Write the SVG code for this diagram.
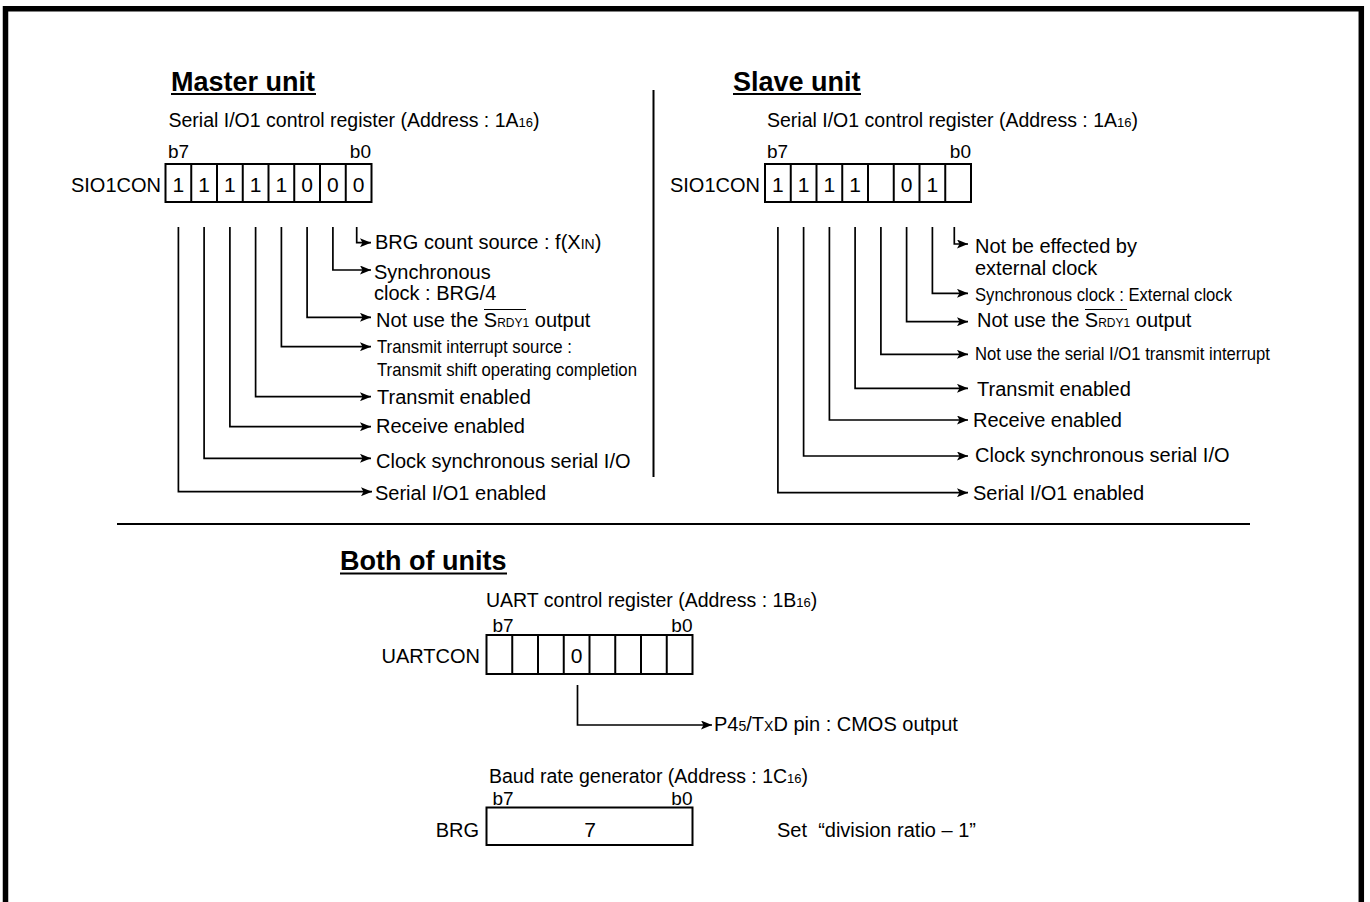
<svg xmlns="http://www.w3.org/2000/svg" width="1370" height="902" viewBox="0 0 1370 902">
<defs>
<marker id="arr" markerUnits="userSpaceOnUse" markerWidth="11" markerHeight="9" refX="11" refY="4.5" orient="auto"><path d="M0,0 L11,4.5 L0,9 L2.5,4.5 z" fill="#000"/></marker>
</defs>
<style>
.t{font-family:"Liberation Sans",Arial,sans-serif;font-size:20px;fill:#000}
.h{font-family:"Liberation Sans",Arial,sans-serif;font-size:27px;font-weight:bold;fill:#000}
.r{font-family:"Liberation Sans",Arial,sans-serif;font-size:19.5px;fill:#000}
.b{font-family:"Liberation Sans",Arial,sans-serif;font-size:19px;fill:#000}
.d{font-family:"Liberation Sans",Arial,sans-serif;font-size:21px;fill:#000;text-anchor:middle}
.c{font-family:"Liberation Sans",Arial,sans-serif;font-size:19px;fill:#000}
.box{fill:#fff;stroke:#000;stroke-width:2}
.cl{stroke:#000;stroke-width:2}
.ar{fill:none;stroke:#000;stroke-width:1.7;marker-end:url(#arr)}
.sep{stroke:#000;stroke-width:2}
</style>
<rect width="1370" height="902" fill="#fff"/>
<path d="M5.5,902 V8.8 H1361.3 V902" fill="none" stroke="#000" stroke-width="5.5"/>
<line class="sep" x1="653.5" y1="90" x2="653.5" y2="477"/>
<line class="sep" x1="117" y1="524" x2="1250" y2="524"/>

<g id="master">
<text class="h" x="171" y="91">Master unit</text>
<line x1="171" y1="94" x2="316" y2="94" stroke="#000" stroke-width="2"/>
<text class="r" x="168.5" y="127">Serial I/O1 control register (Address : 1A<tspan font-size="13">16</tspan>)</text>
<text class="b" x="168" y="158">b7</text>
<text class="b" x="371" y="158" text-anchor="end">b0</text>
<text class="t" x="161" y="192" text-anchor="end" font-size="21">SIO1CON</text>
<rect class="box" x="165.5" y="164" width="206" height="38"/>
<g class="cl"><line x1="191.25" y1="164" x2="191.25" y2="202"/><line x1="217" y1="164" x2="217" y2="202"/><line x1="242.75" y1="164" x2="242.75" y2="202"/><line x1="268.5" y1="164" x2="268.5" y2="202"/><line x1="294.25" y1="164" x2="294.25" y2="202"/><line x1="320" y1="164" x2="320" y2="202"/><line x1="345.75" y1="164" x2="345.75" y2="202"/></g>
<text class="d" x="178.4" y="192">1</text><text class="d" x="204.1" y="192">1</text><text class="d" x="229.9" y="192">1</text><text class="d" x="255.6" y="192">1</text><text class="d" x="281.4" y="192">1</text><text class="d" x="307.1" y="192">0</text><text class="d" x="332.9" y="192">0</text><text class="d" x="358.6" y="192">0</text>
<text class="t" x="375" y="249">BRG count source : f(X<tspan font-size="14">IN</tspan>)</text>
<text class="t" x="374" y="279">Synchronous</text>
<text class="t" x="374" y="300">clock : BRG/4</text>
<text class="t" x="376" y="327">Not use the S<tspan font-size="12">RDY1</tspan> output</text>
<line x1="484" y1="309.5" x2="526" y2="309.5" stroke="#000" stroke-width="1"/>
<text class="c" x="377" y="353" textLength="195" lengthAdjust="spacingAndGlyphs">Transmit interrupt source :</text>
<text class="c" x="377" y="376" textLength="260" lengthAdjust="spacingAndGlyphs">Transmit shift operating completion</text>
<text class="t" x="377" y="404">Transmit enabled</text>
<text class="t" x="376" y="433">Receive enabled</text>
<text class="t" x="376" y="468">Clock synchronous serial I/O</text>
<text class="t" x="375" y="500">Serial I/O1 enabled</text>
</g>

<g id="slave">
<text class="h" x="733" y="91">Slave unit</text>
<line x1="733" y1="94" x2="861" y2="94" stroke="#000" stroke-width="2"/>
<text class="r" x="767" y="127">Serial I/O1 control register (Address : 1A<tspan font-size="13">16</tspan>)</text>
<text class="b" x="767" y="158">b7</text>
<text class="b" x="971" y="158" text-anchor="end">b0</text>
<text class="t" x="760" y="192" text-anchor="end" font-size="21">SIO1CON</text>
<rect class="box" x="765" y="164" width="206" height="38"/>
<g class="cl"><line x1="790.75" y1="164" x2="790.75" y2="202"/><line x1="816.5" y1="164" x2="816.5" y2="202"/><line x1="842.25" y1="164" x2="842.25" y2="202"/><line x1="868" y1="164" x2="868" y2="202"/><line x1="893.75" y1="164" x2="893.75" y2="202"/><line x1="919.5" y1="164" x2="919.5" y2="202"/><line x1="945.25" y1="164" x2="945.25" y2="202"/></g>
<text class="d" x="777.9" y="192">1</text><text class="d" x="803.6" y="192">1</text><text class="d" x="829.4" y="192">1</text><text class="d" x="855.1" y="192">1</text><text class="d" x="906.6" y="192">0</text><text class="d" x="932.4" y="192">1</text>
<text class="t" x="975" y="253">Not be effected by</text>
<text class="t" x="975" y="275">external clock</text>
<text class="c" x="975" y="301" textLength="257" lengthAdjust="spacingAndGlyphs">Synchronous clock : External clock</text>
<text class="t" x="977" y="327">Not use the S<tspan font-size="12">RDY1</tspan> output</text>
<line x1="1085" y1="309.5" x2="1127" y2="309.5" stroke="#000" stroke-width="1"/>
<text class="c" x="975" y="360" textLength="295" lengthAdjust="spacingAndGlyphs">Not use the serial I/O1 transmit interrupt</text>
<text class="t" x="977" y="396">Transmit enabled</text>
<text class="t" x="973" y="427">Receive enabled</text>
<text class="t" x="975" y="462">Clock synchronous serial I/O</text>
<text class="t" x="973" y="500">Serial I/O1 enabled</text>
</g>

<g id="both">
<text class="h" x="340" y="570">Both of units</text>
<line x1="340" y1="573.5" x2="507" y2="573.5" stroke="#000" stroke-width="2"/>
<text class="r" x="486" y="607">UART control register (Address : 1B<tspan font-size="13">16</tspan>)</text>
<text class="b" x="492.5" y="631.5">b7</text>
<text class="b" x="692.5" y="631.5" text-anchor="end">b0</text>
<text class="t" x="480" y="663" text-anchor="end">UARTCON</text>
<rect class="box" x="486.5" y="635" width="206" height="39"/>
<g class="cl"><line x1="512.25" y1="635" x2="512.25" y2="674"/><line x1="538" y1="635" x2="538" y2="674"/><line x1="563.75" y1="635" x2="563.75" y2="674"/><line x1="589.5" y1="635" x2="589.5" y2="674"/><line x1="615.25" y1="635" x2="615.25" y2="674"/><line x1="641" y1="635" x2="641" y2="674"/><line x1="666.75" y1="635" x2="666.75" y2="674"/></g>
<text class="d" x="576.6" y="663">0</text>
<text class="t" x="714" y="731">P4<tspan font-size="14">5</tspan>/T<tspan font-size="14">X</tspan>D pin : CMOS output</text>
</g>

<g id="brg">
<text class="r" x="489" y="783">Baud rate generator (Address : 1C<tspan font-size="13">16</tspan>)</text>
<text class="b" x="492.5" y="805">b7</text>
<text class="b" x="692.5" y="805" text-anchor="end">b0</text>
<text class="t" x="479" y="837" text-anchor="end">BRG</text>
<rect class="box" x="486.5" y="807.5" width="206" height="37.5"/>
<text class="d" x="590" y="837" font-size="20">7</text>
<text class="t" x="777" y="837" xml:space="preserve">Set  “division ratio – 1”</text>
</g>

<g id="connectors">
<path class="ar" d="M356.7,227 V242.7 H371"/>
<path class="ar" d="M332.9,227 V270 H371"/>
<path class="ar" d="M307.1,227 V317.3 H371"/>
<path class="ar" d="M281.4,227 V346.7 H371"/>
<path class="ar" d="M255.6,227 V396.7 H371"/>
<path class="ar" d="M229.9,227 V426.7 H371"/>
<path class="ar" d="M204.1,227 V458.3 H371"/>
<path class="ar" d="M178.4,227 V491.7 H372"/>
<path class="ar" d="M954.3,227 V244 H968"/>
<path class="ar" d="M932.4,227 V293.3 H968"/>
<path class="ar" d="M906.6,227 V321.7 H968"/>
<path class="ar" d="M880.9,227 V354.3 H968"/>
<path class="ar" d="M855.1,227 V388.3 H968"/>
<path class="ar" d="M829.4,227 V420 H968"/>
<path class="ar" d="M803.6,227 V456 H968"/>
<path class="ar" d="M777.9,227 V492.7 H968"/>
<path class="ar" d="M577.5,685 V725 H712"/>
</g>
</svg>
